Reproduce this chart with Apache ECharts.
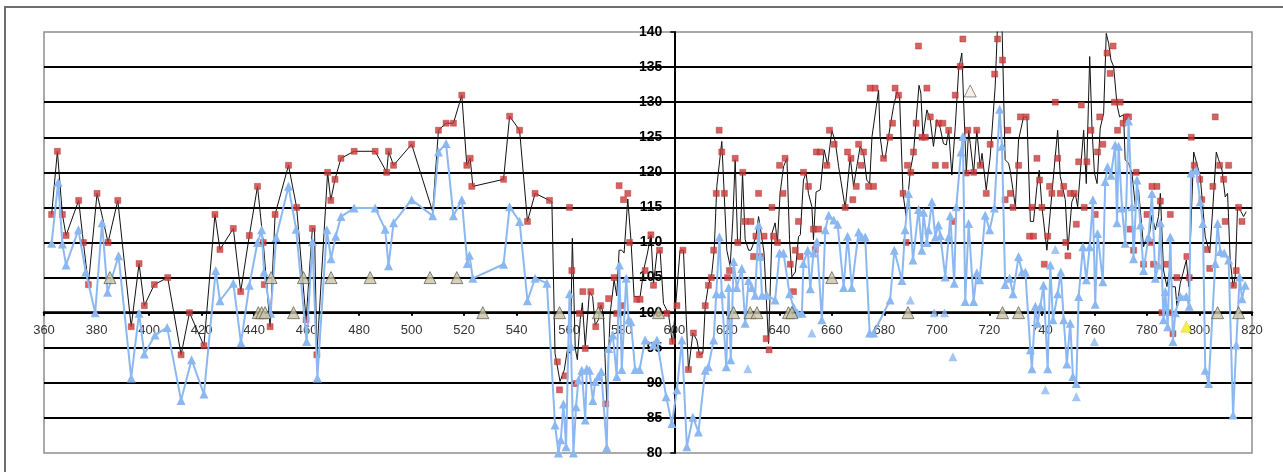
<!DOCTYPE html>
<html>
<head>
<meta charset="utf-8">
<script src="https://cdn.jsdelivr.net/npm/echarts@6/dist/echarts.min.js"></script>
<style>
html,body{margin:0;padding:0;background:#fff;}
#chart{width:1283px;height:472px;}
</style>
</head>
<body>
<div id="chart"></div>
<script>
// ---- data ----
const xTicks = [360,380,400,420,440,460,480,500,520,540,560,580,600,620,640,660,680,700,720,740,760,780,800,820];
const yTicks = [80,85,90,95,100,105,110,115,120,125,130,135,140];

const blackLine = [
[362.9,114],[365.1,123],[367,114],[368.4,111],[373.2,116],[375,110],[376.9,104],[380.2,117],[384.4,110],[388.1,116],
[393.2,98],[396.2,107],[398.2,101],[402,104],[407.1,105],[412.2,94],[415.4,100],[420.9,95.3],[425.1,114],[427,109],
[432.1,112],[434.9,103],[438.2,111],[441.3,118],[443.5,110],[446.1,98],[448,114],[453.1,121],[456.2,115],[459.8,99],
[462.2,112],[463,112],[463.9,94],[468,120],[469.2,116],[470.8,119],[473.1,122],[478.1,123],[486.1,123],[490.5,120],
[491.2,123],[493.1,121],[500,124],[508,114.4],[510.2,126],[513.1,127],[515.9,127],[519.1,131],[521,121],[522.3,122],
[523.3,118],[535,119],[537.3,128],[541.1,126],[544.1,113],[547,117],[552.5,116],[553.4,115.8],[554.6,94.2],[556.5,90.2],
[558.1,91.8],[559.3,94.7],[560.4,94.2],[561.2,110.6],[562.3,94.9],[563.1,93.3],[564.2,99],[565,101.4],[566.1,95.2],[567.7,103],
[568.9,102.3],[569.9,98.2],[571.1,99],[572,101.1],[573,99.9],[574.3,87.1],[575.6,99.9],[577.1,104.7],[578.1,102.4],[579,108.9],
[580,108.9],[580.9,108.5],[582.3,116.2],[583.5,110.4],[584.7,102.3],[587,102.3],[588.5,106.3],[589.8,108.5],[591.1,111.1],[592.1,104.2],
[593.4,108.5],[594.6,108.9],[595.9,101.3],[597.8,99.9],[599.3,95.6],[600.3,99.9],[602.2,108.9],[603.5,108.9],[605.4,91.8],[607.1,97.1],
[608.6,96.1],[609.6,94],[610.9,94.2],[611.8,101],[613,103.9],[614.3,105.6],[615.2,108.9],[616.2,118],[618.1,124.4],[620,108.9],
[621.3,106.6],[622.3,113.2],[623.2,121.8],[624.1,110.1],[625.1,110],[626,119.9],[627,110.4],[628.3,108.9],[629.2,108.9],[630.2,109.9],
[631.1,110.8],[632.1,113.7],[633.1,111.3],[634.2,108.5],[635.9,95.6],[637.2,111.3],[638.4,112.8],[639.3,110],[640.3,117],[641.6,120.8],
[642.9,122],[643.9,110.4],[644.8,105.1],[646.1,105.8],[647.3,110.8],[648,111.1],[649.2,118.9],[650.2,119.9],[651.1,117],[652.4,115.1],
[653,110.4],[654,117.2],[655.6,117.5],[657.1,123.2],[658.4,121],[660,126],[661.3,124.4],[662.6,120.8],[665.1,114.9],[667,122.2],
[668.3,118],[669.5,120.8],[670.8,123.7],[672.1,122.7],[673.3,118.9],[674.4,118.4],[675.3,125.1],[677.8,131.7],[678.4,125.1],[679.4,122.2],
[680.3,122],[682.2,126.5],[683.5,129.4],[684.8,131.5],[685.8,130.8],[687.1,117],[688.3,113.7],[689.9,120.3],[691.1,122.7],[692.1,127.5],
[693.2,132.4],[693.9,131.3],[694.7,125.1],[696.2,128.9],[697.5,127.5],[698.7,123.7],[700,127.5],[701.3,126.3],[702.5,124.1],[703.6,123.9],
[704.5,126],[705.7,119.6],[707,126.5],[708.3,134.6],[709.5,137],[711.2,119.9],[712.1,126],[712.7,124.1],[714,119.9],[715.2,126],
[716.5,120.8],[717.2,122.7],[718.8,117.5],[720.3,122.2],[722.2,132.2],[723.1,141],[724.8,141],[726,121.8],[727.3,121.3],[727.9,120.3],
[729.9,115.1],[731.1,124.6],[733,127.9],[734.3,127.9],[735.6,113],[736.8,113],[738.1,118],[739,120.3],[740,115.1],[741.9,108.9],
[743.8,117],[746,126],[747,119.4],[748.9,116.1],[749.9,108.9],[751.4,115.8],[752.7,117],[753.6,115.1],[755,121.8],[755.9,126],
[756.9,118.4],[758.2,136.5],[759.1,126],[760,119.9],[761,118.4],[762.2,126.3],[763.5,128.4],[764.5,139.8],[765.4,138.4],[766.3,136],
[767.3,135.1],[768.6,129.6],[769.6,127.9],[771.1,128.2],[771.7,121.8],[773,121.3],[774.3,119.9],[775.6,115.1],[776.8,117.5],[778.7,109.4],
[780,110.8],[781,111.3],[781.9,113.9],[783.2,111.8],[784.4,113.7],[785.1,117],[786.3,106.1],[787.6,103.7],[788.9,106.6],[789.5,103.7],
[790.8,103.7],[791.4,100.9],[792.7,104.2],[793.7,105.6],[795,107.5],[795.9,103.7],[797.8,122.9],[799.3,120.8],[800.3,119.4],[802.2,110.8],
[803.9,108.5],[805.1,115.1],[806.4,122.9],[807.3,121.8],[808.6,120.3],[809.8,116.5],[810.7,117],[811.7,107.5],[812.8,103.7],[813.6,105.1],
[814.5,115.1],[815.8,114.4],[816.8,113.7],[817.8,114.4]
];

const redPoints = [
[362.9,114],[365.1,123],[367,114],[368.4,111],[373.2,116],[375,110],[376.9,104],[380.2,117],[384.4,110],[388.1,116],
[393.2,98],[396.2,107],[398.2,101],[402,104],[407.1,105],[412.2,94],[415.4,100],[420.9,95.3],
[425.1,114],[427,109],[432.1,112],[434.9,103],[438.2,111],[441.3,118],[443.5,110],[443.9,104],[446.1,98],[448,114],
[453.1,121],[456.2,115],[459.8,99],[462.2,112],[463.9,94],[468,120],[469.2,116],[470.8,119],[473.1,122],[478.1,123],[486.1,123],
[490.5,120],[491.2,123],[493.1,121],[500,124],[510.2,126],[513.1,127],[515.9,127],[519.1,131],[521,121],[522.3,122],
[522.9,118],[535,119],[537.3,128],[541.1,126],[544.1,113],[547,117],[552.5,116],
[555.5,93],[556.3,89],[558.4,91],[560.1,115],[561,106],[562,89.9],[563.9,99.9],[565.2,103],[566.1,94.9],[568.2,103],
[570.1,98],[572,101],[573.9,87],[575,102],[577.1,105],[578.1,99.9],[579,118.1],[580,101],[580.7,116.1],[582.3,117],
[583,110],[585.7,101.9],[587,101.9],[588.9,106],[591.1,111.1],[592.1,103.9],[594.4,108.9],[597.2,99.9],[599.3,95.9],[601,101],
[603.3,108.9],[605.4,91.9],[607.3,97.1],[609.6,94],
[611.8,101],[613,103.9],[614.1,105],[615,108.9],[616,117],[617.1,126],[618.1,122.9],[619.1,117],[620.3,105],[621,106],
[623.2,122],[624.2,110],[626.1,120],[627,113],[629.2,113],[630.2,108],[631.1,110.9],[632.1,117],[632.7,108],[634.2,110.9],
[635,96.3],[636.1,94.7],[637.2,115],[637.8,110.9],[639.3,110],[640.1,121],[641.4,117],[642.2,122],[644.2,106.9],[645.4,103],
[646.1,108.9],[647.3,113],[647.9,108],[649.2,120],[651.1,118],[653,111.9],[654.9,111.9],[653.7,109],[654.1,122.9],[655.6,122.9],
[658.1,121],[659.1,126],[660.9,124],
[665.1,115],[666,122.9],[667.3,122],[668,116.1],[669.3,118],[670.2,124],[671.2,121],[672.1,122.9],[674,118],[675.9,118],
[674.6,132],[676.5,132],[679.7,122],[682,125],[683.1,127],[684.1,132],[685.4,131],[687.1,117],[688.3,110],[688.8,121],
[690.1,120],[691.1,122.9],[692.1,127],[693,138],[694.3,125],[695.6,125],[696.2,132],[697.5,127.9],[699.4,121],[700.6,127],
[702.3,127],[703.2,121],[704.5,126],[706.1,113],[707,131],[708.9,135.1],[709.9,139],[711.2,119.9],[711.8,126],[714,120],
[715.2,126],[716.5,121],
[718.8,117],[720.3,124],[722,134],[723.1,139],[725,136],[726,116.1],[727,126],[728,117],[729,115],[731.1,121],
[731.8,127.9],[734,127.9],[735.3,110.9],[736.8,110.9],[736.2,115],[738.1,122],[739.1,118.9],[740,115],[740.9,106.9],[742.2,110.9],
[742.9,118],[743.8,117],[745.1,130],[746,122],[747,117],[748.3,118],[749.1,110],[749.9,108.1],[750.8,117],[752.3,117],
[753.1,112.6],[754,121.5],[755,129.6],[756.1,115],[757.1,121.5],[758.7,126],[760.3,114],[761.2,122.9],[762,127.9],[763.2,124],
[764.8,137],[766,134.1],[767.1,138],[767.6,130],[768.8,126],
[769.8,130],[770.9,127],[772.1,127.9],[773,127.9],[775.9,120],[773.6,111.9],[774.9,108.9],[778.7,106.9],[780,114],[781.3,110],
[781.9,118],[783.8,118],[785.1,115.9],[782.5,106.9],[787.4,106.9],[788.9,114],[785.7,100],[788.3,100],[789.9,97],[791.4,105],
[795.2,108],[796.1,105],[796.9,125],[798,121],[800.1,119],[800.9,116.1],[802.9,109],[803.9,106.3],[805.1,118],[806,127.9],
[807.7,121],[809.2,119],[811.1,121],[809.8,113],[813,103.9],[814,106],[814.9,115],[816.2,113]
];

const blueLine = [
[362.9,109.9],[365.4,118.6],[367,109.8],[368.4,106.8],[373.1,111.8],[375.9,105.8],[379.5,100],[382.1,112.8],[384.2,102.9],[388.4,108.1],
[393.2,90.7],[396.2,99.9],[398.2,94.1],[402.3,96.8],[406.9,97.9],[412.2,87.5],[416.2,93.3],[420.9,88.4],
[425.4,106],[427,101.7],[432.1,104.2],[435,95.7],[438.2,103.9],[441.3,110],[442.9,111.8],[443.8,105.8],[446.3,99.9],[448.4,110.7],
[453.1,118],[456,111.9],[460,95.9],[462.2,110.1],[464.1,90.7],[467.7,111.8],[469.3,107.7],[471.1,110.9],[473.1,113.7],[478.1,114.9],[486.1,114.9],
[489.9,111.9],[491.2,106.7],[493.1,112.8],[500,116.1],[508,113.8],[510.2,122.9],[513.1,124.1],[515.9,113.8],[519.1,116.1],[521.2,107],
[522,108.2],[523.3,104.9],[535,106.9],[537.3,115.1],[541.1,113],[544.1,101.7],[547,104.9],[551.5,104.2],
[554.6,84],[555.9,80],[556.8,81.9],[557.8,87],[558.8,80.9],[560.1,102.7],[560.7,95.2],[561.6,80],[562.6,86.6],[563.5,90.4],
[564.8,91.8],[566.1,84.7],[566.7,92],[567.7,91.8],[569,87.5],[569.9,90.2],[571.1,90.9],[572.2,91.6],[574.3,80.8],[575,94.9],
[576.6,96.8],[578.1,90.9],[579.1,106.8],[580,91.9],[581.7,104.9],[582.6,99],[583.5,98.7],[585.1,91.9],[586.8,91.9],[588.9,96.1],
[592.1,95.4],[593.4,96.1],[596.9,88],[599.1,84.2],[601,89],[602.9,96.1],[604.8,80.9],[607.1,85.1],[609.2,83],
[611.8,91.8],[613,92.3],[615,96.1],[616,102.7],[617.2,110.8],[618.1,102.7],[619.8,92.3],[620.7,103.6],[621.5,93.3],[622.6,107.3],
[623.8,103.6],[625.7,106.3],[627,98.5],[628.3,104.6],[629.5,103.6],[630.8,102.5],[632.1,112.5],[632.7,108],[633.4,102.5],[635.3,102.5],
[638.4,101.8],[640.1,108.5],[641.6,108.5],[643.9,102.7],[645.4,100.8],[647,99.9],[648.6,99.9],[649.2,107],[650.8,108.9],[651.8,103.4],
[653,108.5],[654.3,110.1],[656.2,99],[657.5,111.8],[658.8,113.9],[660.7,113.2],
[662.2,112.6],[664.5,103.6],[666,110.9],[667.6,103.6],[670.2,111.5],[671.4,110.8],[672.7,110.8],[674.4,97.1],[675.9,97.1],
[682.2,101.8],[683.8,108.9],[686.7,104.6],[687.9,111.8],[689.2,117],[690.9,107.5],[693,114.7],[694.3,108.9],[694.9,114.3],[696.2,110],
[696.8,111.8],[698.1,115.8],[699.4,110.8],[700.6,112.5],[701.3,111],[703.2,105.1],[704.5,110.8],[705.1,113.8],[706.6,104.2],[707.4,115.1],
[709.2,122.9],[709.9,125.1],[710.8,101.6],[712.1,112.7],[714,101.6],[715.2,105.7],
[716.3,104.7],[718.4,113.9],[720.1,111.8],[721.9,114.9],[723.9,129],[724.8,123.7],[726,104],[727.7,104.9],[729,102.7],[731.1,108],
[732.4,105.8],[733.7,105.8],[735.6,94.7],[736.2,92],[737.5,100.9],[738.4,98.5],[739.4,100.9],[740.6,103.9],[742.2,92],[743.2,106.8],
[744.2,99],[746,102.7],[747.2,105.8],[748.3,99],[749.5,92.7],[750.8,98.5],[751.8,90.9],[753.1,89.9],[754,102.3],[755.6,109.4],
[756.9,104.7],[758.2,109.4],[759.4,116.1],[760.3,101.2],[761.2,111.3],[763.2,104.4],[764.1,118.7],[765,120.8],[766.3,119.6],[767.9,123.9],
[768.6,112.8],[769.2,123.7],[770.5,114.9],[771.7,109.9],[773,127.3],[774.3,115.1],[774.9,107.7],[776.2,118.9],[777.5,112.5],[778.7,106],
[780.6,110.8],[781.9,117],[783.2,104.9],[784.4,106.8],[785.1,112.8],[786.3,99],[787,103],[787.9,98],[788.9,110.8],[789.9,95.9],
[790.8,100],[792.7,102.3],[795,102.3],[796.1,100.9],[796.8,119.9],[798.8,120.3],[800.3,115.8],[801.3,112.7],[802.2,91.8],[803.5,89.9],
[806,107],[806.9,112.7],[807.9,108.7],[809.4,108.5],[811.1,107.5],[812.8,85.4],[814,95.4],[815.3,105.1],[816.2,102],[817.4,103.9]
];

const blueExtra = [[628,92],[652.4,97.1],[689.9,101.8],[699,100],[702.9,100],[706.1,93.7],[741.3,89],[745.1,109],[753.1,88],[760,95.9]];

const tanPoints = [
[385.1,105],[441.6,100],[442.9,100],[444.2,100],[446.5,105],[455,100],[458.8,105],[469.3,105],[484.2,105],[507,105],
[517.2,105],[527.1,100],[556.3,100],[571.1,100],[594,100],[622.6,100],[628.9,100],[631.5,100],[643.5,100],[644.8,100],
[660,105],[689,100],[725,100],[731.1,100],[806.9,100],[814.9,100]
];
const palePoints = [[712.7,131.6]];
const yellowPoints = [[795,98]];

// ---- chart ----
const chart = echarts.init(document.getElementById('chart'), null, {renderer: 'canvas'});
const FONT = "'Liberation Sans', Arial, sans-serif";
const X_CROSS_Y = 100;  // x axis crosses at y = 100
const Y_CROSS_X = 600;  // y axis crosses at x = 600

const option = {
  animation: false,
  backgroundColor: '#fff',
  graphic: [{
    type: 'rect', silent: true, z: -10,
    shape: {x: 5, y: 7, width: 1400, height: 700},
    style: {fill: 'none', stroke: '#6e6e6e', lineWidth: 2}
  }],
  grid: {
    left: 44, right: 31, top: 32, bottom: 19,
    show: true, borderColor: '#8f8f8f', borderWidth: 1.5,
    outerBoundsMode: 'none'
  },
  xAxis: {
    type: 'value', min: xTicks[0], max: xTicks[xTicks.length - 1], interval: 20,
    position: 'bottom',
    axisLine: {show: true, onZero: false, lineStyle: {color: '#000', width: 2.5}},
    axisTick: {show: true, length: 3, lineStyle: {color: '#000', width: 2}},
    axisLabel: {color: '#333', fontSize: 13, fontFamily: FONT, margin: 11},
    splitLine: {show: false}
  },
  yAxis: {
    type: 'value', min: yTicks[0], max: yTicks[yTicks.length - 1], interval: 5,
    position: 'left',
    axisLine: {show: true, onZero: false, lineStyle: {color: '#000', width: 2}},
    axisTick: {show: true, length: 4, lineStyle: {color: '#000', width: 1.5}},
    axisLabel: {color: '#000', fontSize: 14, fontWeight: 'bold', fontFamily: FONT, margin: 12},
    splitLine: {show: true, showMinLine: false, showMaxLine: false, lineStyle: {color: '#000', width: 2}}
  },
  series: [
    {type: 'line', data: blackLine, symbol: 'none', z: 2, clip: true,
     lineStyle: {color: '#111', width: 1}},
    {type: 'scatter', data: redPoints, symbol: 'rect', symbolSize: 6, z: 3,
     itemStyle: {color: '#cc3a3a', borderColor: '#b02a2a', borderWidth: 0.5}},
    {type: 'line', data: blueLine, symbol: 'triangle', symbolSize: 9, z: 4, clip: true,
     lineStyle: {color: '#8cb8f2', width: 2}, itemStyle: {color: '#8cb8f2'}},
    {type: 'scatter', data: blueExtra, symbol: 'triangle', symbolSize: 9, z: 4,
     itemStyle: {color: '#8cb8f2'}},
    {type: 'scatter', data: tanPoints, symbol: 'triangle', symbolSize: 12, z: 5,
     itemStyle: {color: '#cbc4a4', borderColor: '#444', borderWidth: 0.8}},
    {type: 'scatter', data: palePoints, symbol: 'triangle', symbolSize: 12, z: 5,
     itemStyle: {color: '#f4ece2', borderColor: '#555', borderWidth: 0.8}},
    {type: 'scatter', data: yellowPoints, symbol: 'triangle', symbolSize: 11, z: 5,
     itemStyle: {color: '#f2ea1e', borderColor: '#c8c000', borderWidth: 0.5}}
  ]
};
chart.setOption(option);

// place the crossing axes: x axis at y = 100, y axis at x = 600
function placeAxes() {
  const rect = chart.getModel().getComponent('grid').coordinateSystem.getRect();
  const py = chart.convertToPixel({gridIndex: 0}, [Y_CROSS_X, X_CROSS_Y]);
  chart.setOption({
    xAxis: {offset: py[1] - (rect.y + rect.height)},
    yAxis: {offset: rect.x - py[0]}
  });
}
placeAxes();
</script>
</body>
</html>
